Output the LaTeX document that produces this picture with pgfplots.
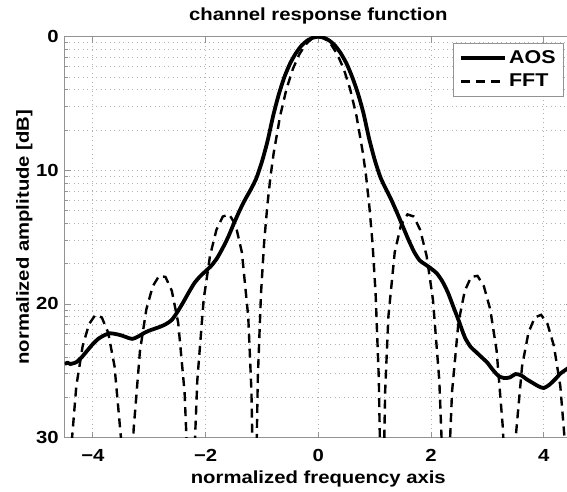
\documentclass[border=0pt]{standalone}
\usepackage{fontspec}
\setmainfont{Liberation Sans}[FakeStretch=1.16]
\usepackage{pgfplots}
\pgfplotsset{compat=1.18}
\begin{document}
\fontsize{17.5}{20}\selectfont\bfseries
\begin{tikzpicture}
\useasboundingbox (-64.7pt,-53.5pt) rectangle (502.3pt,437.5pt);
\clip (-64.7pt,-53.5pt) rectangle (502.3pt,437.5pt);
\begin{axis}[
  at={(0pt,0pt)}, anchor=south west,
  scale only axis, width=507.2pt, height=400.8pt,
  xmin=-4.5, xmax=4.5, ymin=0, ymax=30, y dir=reverse,
  xtick={-4,-2,0,2,4}, xticklabels={−4,−2,0,2,4},
  ytick={0,10,20,30}, yticklabels={0,10,20,30},
  minor ytick={0.46,0.97,1.55,2.22,3.01,3.98,5.23,6.99,10.46,10.97,11.55,12.22,13.01,13.98,15.23,16.99,20.46,20.97,21.55,22.22,23.01,23.98,25.23,26.99},
  grid=both,
  major grid style={gray!60, line width=0.8pt, dash pattern=on 1pt off 3.5pt},
  minor grid style={gray!60, line width=0.8pt, dash pattern=on 1pt off 3.5pt},
  axis line style={gray!85, line width=0.9pt},
  tick style={gray!85, line width=0.8pt},
  tick align=inside,
  major tick length=6pt, minor tick length=3pt,
  xticklabel style={anchor=base, yshift=-24.2pt},
  title={channel response function},
  title style={at={(axis description cs:0.5,1.0267)}, anchor=base},
  xlabel={normalized frequency axis},
  xlabel style={at={(axis description cs:0.5,-0.1148)}, anchor=base},
  ylabel={normalized amplitude [dB]},
  ylabel style={at={(axis description cs:-0.0704,0.5)}, anchor=base},
  legend style={at={(0.9844,0.9843)}, anchor=north east, draw=gray!85, line width=0.8pt, fill=white,
    inner xsep=6pt, inner ysep=5pt, row sep=4pt, nodes={inner xsep=2pt, inner ysep=2pt},
    font=\fontsize{18.5}{21}\selectfont\bfseries},
  legend cell align=left,
  legend image code/.code={\draw[#1] (0pt,0pt) -- (44pt,0pt);},
]
\addplot[black, line width=3.8pt, line join=round, smooth, tension=0.4] coordinates {
(-4.50,24.5) (-4.45,24.4) (-4.40,24.5) (-4.35,24.45) (-4.29,24.35) (-4.2,24.0) (-4.1,23.5) (-4.0,23.0) (-3.9,22.6) (-3.8,22.35) (-3.7,22.2) (-3.6,22.25) (-3.5,22.35) (-3.4,22.5) (-3.3,22.62) (-3.2,22.45) (-3.1,22.2) (-3.0,22.0) (-2.9,21.85) (-2.8,21.7) (-2.7,21.5) (-2.6,21.2) (-2.5,20.6) (-2.4,19.9) (-2.3,19.15) (-2.2,18.45) (-2.1,17.95) (-2.0,17.55) (-1.9,17.15) (-1.8,16.6) (-1.7,15.85) (-1.6,15.0) (-1.5,14.0) (-1.4,13.05) (-1.3,12.2) (-1.2,11.45) (-1.1,10.6) (-1.0,9.35) (-0.9,7.8) (-0.8,5.9) (-0.7,4.3) (-0.6,3.0) (-0.5,2.0) (-0.4,1.25) (-0.3,0.68) (-0.2,0.3) (-0.1,0.08) (0,0) (0.1,0.08) (0.2,0.3) (0.3,0.68) (0.4,1.25) (0.5,2.0) (0.6,3.0) (0.7,4.2) (0.8,5.7) (0.9,7.6) (1.0,9.2) (1.1,10.5) (1.2,11.4) (1.3,12.25) (1.4,13.2) (1.5,14.2) (1.6,15.2) (1.7,16.1) (1.8,16.75) (1.9,17.05) (2.0,17.35) (2.1,17.7) (2.2,18.3) (2.3,19.15) (2.4,20.25) (2.5,21.35) (2.6,22.5) (2.7,23.2) (2.8,23.6) (2.9,24.0) (3.0,24.4) (3.1,24.95) (3.2,25.4) (3.3,25.55) (3.4,25.5) (3.5,25.25) (3.6,25.35) (3.7,25.65) (3.8,25.9) (3.9,26.15) (4.0,26.3) (4.1,26.05) (4.2,25.65) (4.3,25.2) (4.4,24.9) (4.5,24.6)
};
\addlegendentry{AOS}
\addplot[black, line width=2.4pt, dash pattern=on 9pt off 6pt] coordinates {
(-4.497,46) (-4.407,31.96) (-4.294,26.15) (-4.181,23.15) (-4.068,21.51) (-3.955,20.82) (-3.842,21.01) (-3.729,22.15) (-3.616,24.66) (-3.503,29.97) (-3.447,35.74) (-3.390,60) (-3.334,35.45) (-3.277,29.39) (-3.164,23.50) (-3.051,20.41) (-2.938,18.68) (-2.825,17.90) (-2.712,17.98) (-2.599,19.02) (-2.486,21.41) (-2.373,26.59) (-2.317,32.29) (-2.260,60) (-2.204,31.86) (-2.147,25.72) (-2.034,19.66) (-1.921,16.39) (-1.808,14.46) (-1.695,13.46) (-1.582,13.30) (-1.469,14.06) (-1.356,16.14) (-1.243,20.97) (-1.187,26.48) (-1.153,34.16) (-1.130,60) (-1.107,33.8) (-1.074,25.61) (-1.017,19.23) (-0.961,15.39) (-0.904,12.62) (-0.848,10.45) (-0.791,8.69) (-0.678,5.94) (-0.565,3.92) (-0.452,2.42) (-0.339,1.33) (-0.226,0.58) (-0.113,0.14) (0,0)
(0.113,0.14) (0.226,0.58) (0.339,1.33) (0.452,2.42) (0.565,3.92) (0.678,5.94) (0.791,8.69) (0.848,10.45) (0.904,12.62) (0.961,15.39) (1.017,19.23) (1.074,25.61) (1.107,33.8) (1.130,60) (1.153,34.16) (1.187,26.48) (1.243,20.97) (1.356,16.14) (1.469,14.06) (1.582,13.30) (1.695,13.46) (1.808,14.46) (1.921,16.39) (2.034,19.66) (2.147,25.72) (2.204,31.86) (2.260,60) (2.317,32.29) (2.373,26.59) (2.486,21.41) (2.599,19.02) (2.712,17.98) (2.825,17.90) (2.938,18.68) (3.051,20.41) (3.164,23.50) (3.277,29.39) (3.334,35.45) (3.390,60) (3.447,35.74) (3.503,29.97) (3.616,24.66) (3.729,22.15) (3.842,21.01) (3.955,20.82) (4.068,21.51) (4.181,23.15) (4.294,26.15) (4.407,31.96) (4.497,46)
};
\addlegendentry{FFT}
\end{axis}
\end{tikzpicture}
\end{document}
